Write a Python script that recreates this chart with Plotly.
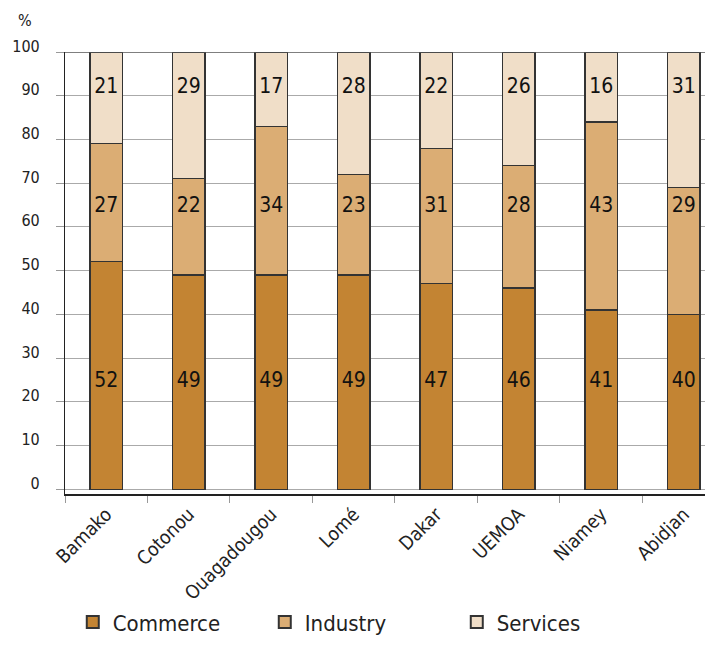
import plotly.graph_objects as go

cities = ["Bamako", "Cotonou", "Ouagadougou", "Lomé", "Dakar", "UEMOA", "Niamey", "Abidjan"]
commerce = [52, 49, 49, 49, 47, 46, 41, 40]
industry = [27, 22, 34, 23, 31, 28, 43, 29]
services = [21, 29, 17, 28, 22, 26, 16, 31]
y_ticks = [0, 10, 20, 30, 40, 50, 60, 70, 80, 90, 100]

FONT = "DejaVu Sans Condensed, Liberation Sans Narrow, Liberation Sans, Arial, sans-serif"
colors = {"Commerce": "#C38433", "Industry": "#DBAD74", "Services": "#F0DEC8"}
label_levels = {"Commerce": 24.6, "Industry": 64.7, "Services": 91.8}

fig = go.Figure()
for name, vals in [("Commerce", commerce), ("Industry", industry), ("Services", services)]:
    fig.add_trace(go.Bar(
        x=cities, y=vals, name=name, width=0.395,
        marker=dict(color=colors[name], line=dict(color="#333333", width=1.2)),
        hoverinfo="skip",
    ))
for name, vals in [("Commerce", commerce), ("Industry", industry), ("Services", services)]:
    fig.add_trace(go.Scatter(
        x=cities, y=[label_levels[name]] * len(cities), text=[str(v) for v in vals],
        mode="text", textfont=dict(family=FONT, size=21, color="#111111"),
        showlegend=False, hoverinfo="skip",
    ))

fig.update_layout(
    width=705, height=654,
    barmode="stack",
    plot_bgcolor="white", paper_bgcolor="white",
    margin=dict(l=57, r=0, t=44, b=168),
    font=dict(family=FONT, size=16, color="#222222"),
    xaxis=dict(
        range=[-0.5, 7.355], type="category", automargin=False,
        showline=True, linecolor="#222222", linewidth=1.5,
        ticks="outside", tickson="boundaries", ticklen=7, tickcolor="#999999",
        tickangle=-45, tickfont=dict(size=19, family=FONT),
        showgrid=False, zeroline=False,
    ),
    yaxis=dict(
        range=[-1.1, 100], tickvals=y_ticks, automargin=False,
        showgrid=True, gridcolor="#AAAAAA", gridwidth=1,
        showline=True, linecolor="#222222", linewidth=1.2,
        ticks="outside", ticklen=8, tickcolor="#999999",
        ticklabelstandoff=13, ticklabelshift=-6,
        tickfont=dict(size=16, family=FONT),
        zeroline=False,
    ),
    legend=dict(
        orientation="h", x=0.012, xanchor="left", y=-0.29, yanchor="middle",
        font=dict(size=22, family=FONT, color="#222222"),
        entrywidth=147, entrywidthmode="pixels", traceorder="normal",
        itemsizing="constant",
    ),
)
fig.add_annotation(text="%", xref="paper", yref="paper", x=(17 - 57) / 648, y=1 + (44 - 12) / 442,
                   xanchor="center", yanchor="middle", showarrow=False, font=dict(size=16, family=FONT))
fig.add_shape(type="line", xref="paper", yref="y", x0=0, x1=1, y0=100, y1=100,
              line=dict(color="#555555", width=1.5))

fig.write_html("out.html")
